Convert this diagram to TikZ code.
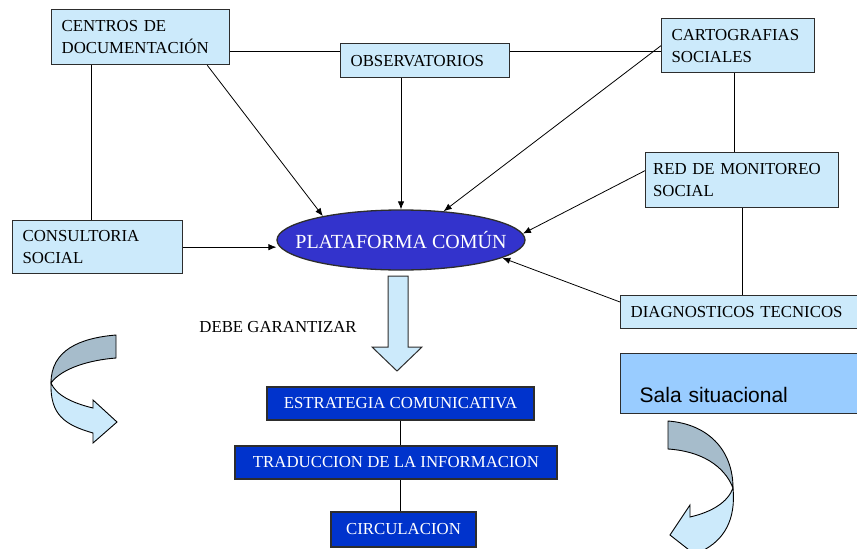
\documentclass[tikz,border=0pt]{standalone}
\usepackage{fontspec}
\setmainfont{Liberation Serif}
\setsansfont{Liberation Sans}
\usetikzlibrary{shapes.geometric,arrows.meta}
\definecolor{paleblue}{RGB}{204,234,251}
\definecolor{deepblue}{RGB}{0,51,204}
\definecolor{ovalblue}{RGB}{51,51,204}
\definecolor{salablue}{RGB}{153,204,255}
\definecolor{steel}{RGB}{166,188,203}
\definecolor{edge}{RGB}{45,45,45}
\tikzset{
  >={Latex[length=8pt,width=6.5pt]},
}
\tikzstyle{lightbox}=[draw=edge,fill=paleblue,line width=1.3pt,anchor=north west,align=left,inner ysep=0pt,font=\fontsize{16.8}{22}\selectfont]
\tikzstyle{bluebox}=[draw=edge,fill=deepblue,line width=1.3pt,text=white,minimum height=33pt,inner sep=0pt,font=\fontsize{16.8}{22}\selectfont]
\tikzstyle{link}=[line width=1pt]
\tikzstyle{feed}=[line width=0.8pt,->]
\tikzstyle{ribbon}=[draw=black,line width=0.9pt]

\begin{document}
\begin{tikzpicture}[x=1pt,y=-1pt]
  \useasboundingbox (0,0) rectangle (857,549);
  \clip (0,0) rectangle (857,549);

  % sources
  \node[lightbox,text width=158pt,inner xsep=10pt,minimum height=55pt] (cent) at (51,9) {CENTROS DE\\DOCUMENTACIÓN};
  \node[lightbox,text width=149pt,inner xsep=10pt,minimum height=34pt] (obs) at (340,43) {OBSERVATORIOS};
  \node[lightbox,text width=133pt,inner xsep=10pt,minimum height=54pt] (carto) at (661,18) {CARTOGRAFIAS\\SOCIALES};
  \node[lightbox,text width=178pt,inner xsep=7.5pt,minimum height=55pt] (red) at (645,152) {RED DE MONITOREO\\SOCIAL};
  \node[lightbox,text width=150pt,inner xsep=10pt,minimum height=53pt] (cons) at (12,220) {CONSULTORIA\\SOCIAL};
  \node[lightbox,text width=220pt,inner xsep=10pt,minimum height=33pt] (diag) at (620,295) {DIAGNOSTICOS TECNICOS};

  % plataforma
  \node[ellipse,draw=edge,fill=ovalblue,line width=1.3pt,minimum width=248pt,minimum height=60pt,inner sep=0pt] (plat) at (401,240) {};
  \node[text=white,font=\fontsize{20}{24}\selectfont] (platlabel) at (plat) {PLATAFORMA COMÚN};

  \draw[link] ([yshift=9pt]obs.west) -- ([yshift=9pt]obs.west -| cent.east);
  \draw[link] ([yshift=9pt]obs.east) -- ([yshift=9pt]obs.east -| carto.west);
  \draw[link] ([xshift=-6pt]cons.north) -- ([xshift=-6pt]cons.north |- cent.south);
  \draw[link] ([xshift=-4pt]carto.south) -- ([xshift=-4pt]carto.south |- red.north);
  \draw[link] (red.south) -- (red.south |- diag.north);

  \draw[feed] ([xshift=-23pt]cent.south east) -- (plat.163);
  \draw[feed] (obs.south -| plat.north) -- (plat.north);
  \draw[feed] (carto.west) -- (plat.34.6);
  \draw[feed] ([yshift=9.5pt]red.west) -- (plat.3.8);
  \draw[feed] ([yshift=-7pt]diag.north west) -- (plat.350);
  \draw[feed] (cons.east) -- (cons.east -| plat.west);

  % salida
  \filldraw[draw=edge,fill=paleblue,line width=1pt] (388,276) -- (408,276) -- (408,347) -- (422,347) -- (397,371) -- (372,347) -- (388,347) -- cycle;
  \node[font=\fontsize{16.8}{22}\selectfont] (debe) at (278,327) {DEBE GARANTIZAR};

  \node[bluebox,minimum width=267pt] (estr) at (400.5,403.5) {ESTRATEGIA COMUNICATIVA};
  \node[bluebox,minimum width=322pt] (trad) at (396,462.5) {TRADUCCION DE LA INFORMACION};
  \node[bluebox,minimum width=145pt,minimum height=35pt] (circ) at (403.5,529.5) {CIRCULACION};
  \draw[link] (estr.south) -- (estr.south |- trad.north);
  \draw[link] (circ.north -| estr.south) -- (estr.south |- trad.south);

  \node[draw=edge,fill=salablue,line width=1.3pt,anchor=north west,align=left,text width=202pt,inner xsep=19pt,inner ysep=5pt,text height=44pt,text depth=6pt,font=\sffamily\fontsize{21}{24}\selectfont] (sala) at (620,353) {Sala situacional};

  % flechas curvas
  \filldraw[ribbon,fill=steel] (116,335) .. controls (80,338) and (51,350) .. (51,383) .. controls (62,368) and (90,360) .. (116,358) -- cycle;
  \filldraw[ribbon,fill=paleblue] (51,383) .. controls (50,415) and (65,425) .. (93,433) -- (93,443) -- (117,422) -- (93,400) -- (93,408) .. controls (72,403) and (56,395) .. (51,383) -- cycle;
  \filldraw[ribbon,fill=steel] (668,421) .. controls (708,424) and (733,450) .. (733,488) .. controls (724,465) and (700,451) .. (668,449) -- cycle;
  \filldraw[ribbon,fill=paleblue] (733,488) .. controls (736,520) and (724,540) .. (702,551) -- (698,557) -- (670,535) -- (690,505) -- (690,517) .. controls (712,512) and (728,502) .. (733,488) -- cycle;
\end{tikzpicture}
\end{document}
